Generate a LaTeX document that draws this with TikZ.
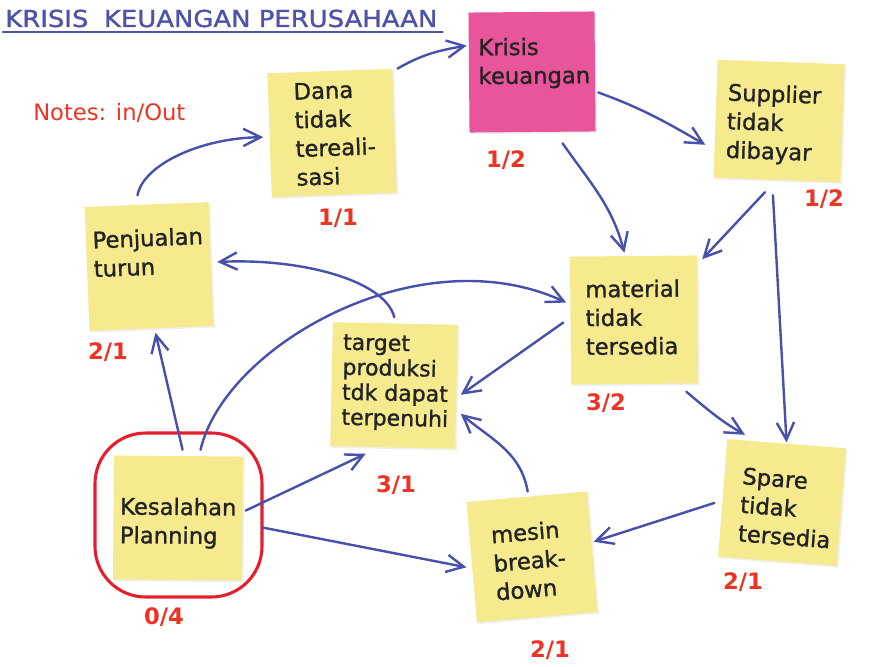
\documentclass[tikz,border=0pt]{standalone}
\usepackage{fontspec}
\setmainfont{DejaVu Sans}
\newfontfamily\handfont[FakeBold=1.2]{DejaVu Sans}
\usetikzlibrary{arrows.meta,calc,shadows}
\definecolor{arrowblue}{RGB}{72,80,172}
\definecolor{titleblue}{RGB}{78,82,168}
\definecolor{countred}{RGB}{236,52,36}
\definecolor{ringred}{RGB}{228,30,45}
\definecolor{noteyellow}{RGB}{246,234,142}
\definecolor{notepink}{RGB}{232,85,155}
\definecolor{inkdark}{RGB}{35,35,35}
\begin{document}
\begin{tikzpicture}[x=0.75pt,y=-0.75pt,
  note/.style={inner sep=0pt, fill=noteyellow, drop shadow={opacity=0.12,shadow xshift=1.2pt,shadow yshift=-1.2pt}},
  notetext/.style={anchor=north west, inner sep=0pt, align=left, font=\handfont\fontsize{17}{21.5}\selectfont, text=inkdark},
  count/.style={font=\bfseries\fontsize{17}{20}\selectfont, text=countred, inner sep=0pt},
  ring/.style={draw=ringred, line width=2.3pt, rounded corners=38pt, inner sep=0pt},
  arr/.style={draw=arrowblue, line width=1.8pt, line cap=round, -{Straight Barb[length=13pt,width=13pt]}}
]
\fill[white] (0,0) rectangle (871,667);
\useasboundingbox (0,0) rectangle (871,667);

% title
\node[anchor=base west, inner sep=0pt, text=titleblue, font=\handfont\fontsize{17.5}{20}\selectfont] (title) at (5,27) {\scalebox{1.11}[1]{KRISIS\hspace{0.6em}KEUANGAN PERUSAHAAN}};
\draw[titleblue, line width=1.9pt, line cap=round] ($(title.base west)+(-2,5)$) -- ($(title.base east)+(5,5)$);
\node[anchor=base west, inner sep=0pt, text=countred, font=\fontsize{17}{20}\selectfont] (notes) at (33,121) {Notes: in/Out};

% notes
\node[note, minimum width=93.75pt, minimum height=93pt, rotate=2] (dana) at (332,133) {};
\node[notetext, rotate=2] (danaT) at (293,83) {Dana\\tidak\\tereali-\\sasi};
\node[count] (danaC) at (338,218) {1/1};

\node[note, fill=notepink, minimum width=94.5pt, minimum height=90pt, rotate=0.5] (krisis) at (532,72) {};
\node[notetext, rotate=0.5] (krisisT) at (478,38) {Krisis\\keuangan};
\node[count] (krisisC) at (506,160) {1/2};

\node[note, minimum width=95.25pt, minimum height=88.5pt, rotate=-2] (supplier) at (779,121) {};
\node[notetext, rotate=-2] (supplierT) at (728,83) {Supplier\\tidak\\dibayar};
\node[count] (supplierC) at (824,199) {1/2};

\node[note, minimum width=93pt, minimum height=93pt, rotate=2.3] (penjualan) at (149,266.5) {};
\node[notetext, rotate=2.3] (penjualanT) at (92,231) {Penjualan\\turun};
\node[count] (penjualanC) at (108,352) {2/1};

\node[note, minimum width=95.25pt, minimum height=96pt, rotate=0.5] (material) at (634,320) {};
\node[notetext, rotate=0.5] (materialT) at (585,280) {material\\tidak\\tersedia};
\node[count] (materialC) at (606,403) {3/2};

\node[note, minimum width=93.75pt, minimum height=93pt, rotate=-1.2] (target) at (394,385.5) {};
\node[notetext, font=\handfont\fontsize{16.5}{18.75}\selectfont, rotate=-1.2] (targetT) at (343,334) {target\\produksi\\tdk dapat\\terpenuhi};
\node[count] (targetC) at (396,485) {3/1};

\node[note, minimum width=96.75pt, minimum height=93pt, rotate=-0.5] (kes) at (178,518) {};
\node[notetext, rotate=-0.5] (kesT) at (120,497) {Kesalahan\\Planning};
\node[count] (kesC) at (164,617) {0/4};
\node[ring, minimum width=125.25pt, minimum height=123pt] (ring) at (178.5,515) {};

\node[note, minimum width=90.75pt, minimum height=90.75pt, rotate=5] (mesin) at (532,557) {};
\node[notetext, rotate=5] (mesinT) at (490,526) {mesin\\break-\\down};
\node[count] (mesinC) at (550,650) {2/1};

\node[note, minimum width=89.25pt, minimum height=88.5pt, rotate=-4.4] (spare) at (782,502.5) {};
\node[notetext, rotate=-4.4] (spareT) at (743,467) {Spare\\tidak\\tersedia};
\node[count] (spareC) at (743,582) {2/1};

% connectors
\draw[arr] ($(dana.north east)+(5,0)$) to[out=30,in=190] ($(krisis.west)+(-2,-27)$);
\draw[arr] ($(krisis.east)+(3,21)$) to[out=-20,in=150] ($(supplier.west)+(-10,26)$);
\draw[arr] ($(krisis.south)+(30,11)$) to[out=-55,in=105] ($(material.north)+(-9,-3)$);
\draw[arr] ($(supplier.south)+(-12,12)$) -- ($(material.north east)+(5,4)$);
\draw[arr] ($(supplier.south)+(-4,15)$) -- ($(spare.north)+(0,-1)$);
\draw[arr] ($(material.south east)+(-12,8)$) to[out=-40,in=150] ($(spare.north west)+(18,-4)$);
\draw[arr] ($(material.west)+(-7,2)$) -- ($(target.east)+(4,8)$);
\draw[arr] ($(spare.west)+(-8,5)$) -- ($(mesin.east)+(1,-10)$);
\draw[arr] ($(mesin.north)+(1,-5)$) to[out=100,in=-40] ($(target.east)+(4,27)$);
\draw[arr] ($(kes.east)+(3,-8)$) -- ($(target.south)+(-27,6)$);
\draw[arr] ($(kes.east)+(20,9)$) -- ($(mesin.west)+(-5,5)$);
\draw[arr] ($(kes.north)+(4,-6)$) -- ($(penjualan.south)+(4,4)$);
\draw[arr] ($(kes.north)+(22,-6)$) .. controls (225,345) and (420,235) .. ($(material.west)+(-4,-18)$);
\draw[arr] ($(target.north)+(-1,-6)$) .. controls (385,280) and (300,258) .. ($(penjualan.east)+(6,-2)$);
\draw[arr] ($(penjualan.north)+(-9,-9)$) .. controls (143,165) and (200,138) .. ($(dana.west)+(-6,2)$);
\end{tikzpicture}
\end{document}
